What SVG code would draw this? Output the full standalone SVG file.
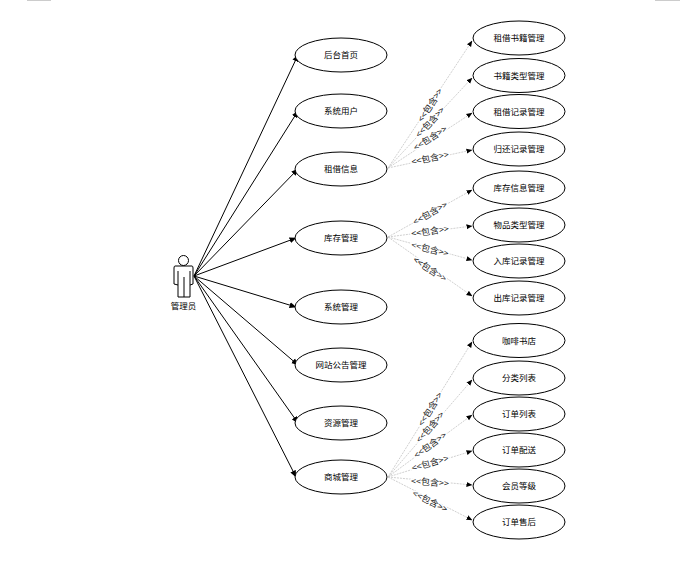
<svg xmlns="http://www.w3.org/2000/svg" width="687" height="561" viewBox="0 0 687 561">
<style>
.n{fill:#fff;stroke:#000;stroke-width:1}
.t{font-family:"Noto Sans CJK SC","Liberation Sans",sans-serif;font-size:8.5px;fill:#000;text-anchor:middle;dominant-baseline:central;transform:translateY(-1px)}
.s{stroke:#000;stroke-width:1;fill:none;marker-end:url(#a)}
.d{stroke:#c4c4c4;stroke-width:.8;stroke-dasharray:2 1;fill:none;marker-end:url(#b)}
.l{font-family:"Noto Sans CJK SC","Liberation Sans",sans-serif;font-size:9px;fill:#222;text-anchor:middle;dominant-baseline:central;stroke:#fff;stroke-width:3px;paint-order:stroke}
</style>
<defs>
<marker id="a" viewBox="0 0 7 7" refX="6.500" refY="3.500" markerWidth="7" markerHeight="7" markerUnits="userSpaceOnUse" orient="auto"><path d="M0 0.500L7 3.500L0 6.500z" fill="#000"/></marker>
<marker id="b" viewBox="0 0 6 6" refX="5.500" refY="3" markerWidth="6" markerHeight="6" markerUnits="userSpaceOnUse" orient="auto"><path d="M0 0.500L6 3L0 5.500z" fill="#000"/></marker>
</defs>
<rect x="27" y="0" width="24" height="1" fill="#ccc"/>
<rect x="655" y="0" width="25" height="1" fill="#ccc"/>
<g id="connectors">
<path class="s" d="M194 276L298 55"/>
<path class="s" d="M194 276L298 111"/>
<path class="s" d="M194 276L298 169"/>
<path class="s" d="M194 276L296 238"/>
<path class="s" d="M194 276L296 307"/>
<path class="s" d="M194 276L298 365"/>
<path class="s" d="M194 276L298 423"/>
<path class="s" d="M194 276L296 477"/>
<path class="d" d="M388 168L472 41"/>
<path class="d" d="M388 168L472 78"/>
<path class="d" d="M388 168L472 113"/>
<path class="d" d="M388 168L472 150"/>
<path class="d" d="M388 237L472 190"/>
<path class="d" d="M388 237L472 226"/>
<path class="d" d="M388 237L472 260"/>
<path class="d" d="M388 237L472 296"/>
<path class="d" d="M388 477L472 342"/>
<path class="d" d="M388 477L472 380"/>
<path class="d" d="M388 477L472 415"/>
<path class="d" d="M388 477L472 451"/>
<path class="d" d="M388 477L472 485"/>
<path class="d" d="M388 477L472 520"/>
<text class="l" transform="translate(430 105) rotate(-57)">&lt;&lt;包含&gt;&gt;</text>
<text class="l" transform="translate(430 122) rotate(-47)">&lt;&lt;包含&gt;&gt;</text>
<text class="l" transform="translate(430 138) rotate(-33)">&lt;&lt;包含&gt;&gt;</text>
<text class="l" transform="translate(430 158) rotate(-12)">&lt;&lt;包含&gt;&gt;</text>
<text class="l" transform="translate(430 213) rotate(-30)">&lt;&lt;包含&gt;&gt;</text>
<text class="l" transform="translate(430 231) rotate(-8)">&lt;&lt;包含&gt;&gt;</text>
<text class="l" transform="translate(430 249) rotate(14)">&lt;&lt;包含&gt;&gt;</text>
<text class="l" transform="translate(430 269) rotate(33)">&lt;&lt;包含&gt;&gt;</text>
<text class="l" transform="translate(430 409) rotate(-58)">&lt;&lt;包含&gt;&gt;</text>
<text class="l" transform="translate(430 427) rotate(-49)">&lt;&lt;包含&gt;&gt;</text>
<text class="l" transform="translate(430 445) rotate(-36)">&lt;&lt;包含&gt;&gt;</text>
<text class="l" transform="translate(430 463) rotate(-16)">&lt;&lt;包含&gt;&gt;</text>
<text class="l" transform="translate(430 482) rotate(4)">&lt;&lt;包含&gt;&gt;</text>
<text class="l" transform="translate(430 501) rotate(27)">&lt;&lt;包含&gt;&gt;</text>
</g>
<g id="actor">
<circle class="n" cx="183.500" cy="260.500" r="5"/>
<path class="n" d="M175 266H192Q193 266 193 268V284L190 285V297H178V285L174 284V268Q174 266 175 266Z"/>
<path d="M178 271V285M190 271V285M184 277V297" fill="none" stroke="#000"/>
<text class="t" x="183.500" y="306">管理员</text>
</g>
<g id="n1"><ellipse class="n" cx="341" cy="55" rx="46" ry="17"/><text class="t" x="341" y="55">后台首页</text></g>
<g id="n2"><ellipse class="n" cx="341" cy="111" rx="46" ry="17"/><text class="t" x="341" y="111">系统用户</text></g>
<g id="n3"><ellipse class="n" cx="341" cy="169" rx="46" ry="17"/><text class="t" x="341" y="169">租借信息</text></g>
<g id="n4"><ellipse class="n" cx="341" cy="238" rx="46" ry="17"/><text class="t" x="341" y="238">库存管理</text></g>
<g id="n5"><ellipse class="n" cx="341" cy="307" rx="46" ry="17"/><text class="t" x="341" y="307">系统管理</text></g>
<g id="n6"><ellipse class="n" cx="341" cy="365" rx="46" ry="17"/><text class="t" x="341" y="365">网站公告管理</text></g>
<g id="n7"><ellipse class="n" cx="341" cy="423" rx="46" ry="17"/><text class="t" x="341" y="423">资源管理</text></g>
<g id="n8"><ellipse class="n" cx="341" cy="477" rx="46" ry="17"/><text class="t" x="341" y="477">商城管理</text></g>
<g id="r1"><ellipse class="n" cx="519" cy="38" rx="46" ry="17"/><text class="t" x="519" y="38">租借书籍管理</text></g>
<g id="r2"><ellipse class="n" cx="519" cy="75.500" rx="46" ry="17"/><text class="t" x="519" y="75.500">书籍类型管理</text></g>
<g id="r3"><ellipse class="n" cx="519" cy="111.500" rx="46" ry="17"/><text class="t" x="519" y="111.500">租借记录管理</text></g>
<g id="r4"><ellipse class="n" cx="519" cy="149" rx="46" ry="17"/><text class="t" x="519" y="149">归还记录管理</text></g>
<g id="r5"><ellipse class="n" cx="519" cy="188" rx="46" ry="17"/><text class="t" x="519" y="188">库存信息管理</text></g>
<g id="r6"><ellipse class="n" cx="519" cy="225" rx="46" ry="17"/><text class="t" x="519" y="225">物品类型管理</text></g>
<g id="r7"><ellipse class="n" cx="519" cy="261" rx="46" ry="17"/><text class="t" x="519" y="261">入库记录管理</text></g>
<g id="r8"><ellipse class="n" cx="519" cy="298" rx="46" ry="17"/><text class="t" x="519" y="298">出库记录管理</text></g>
<g id="r9"><ellipse class="n" cx="519" cy="340.500" rx="46" ry="17"/><text class="t" x="519" y="340.500">咖啡书店</text></g>
<g id="r10"><ellipse class="n" cx="519" cy="378" rx="46" ry="17"/><text class="t" x="519" y="378">分类列表</text></g>
<g id="r11"><ellipse class="n" cx="519" cy="414" rx="46" ry="17"/><text class="t" x="519" y="414">订单列表</text></g>
<g id="r12"><ellipse class="n" cx="519" cy="450" rx="46" ry="17"/><text class="t" x="519" y="450">订单配送</text></g>
<g id="r13"><ellipse class="n" cx="519" cy="486" rx="46" ry="17"/><text class="t" x="519" y="486">会员等级</text></g>
<g id="r14"><ellipse class="n" cx="519" cy="522" rx="46" ry="17"/><text class="t" x="519" y="522">订单售后</text></g>
</svg>
